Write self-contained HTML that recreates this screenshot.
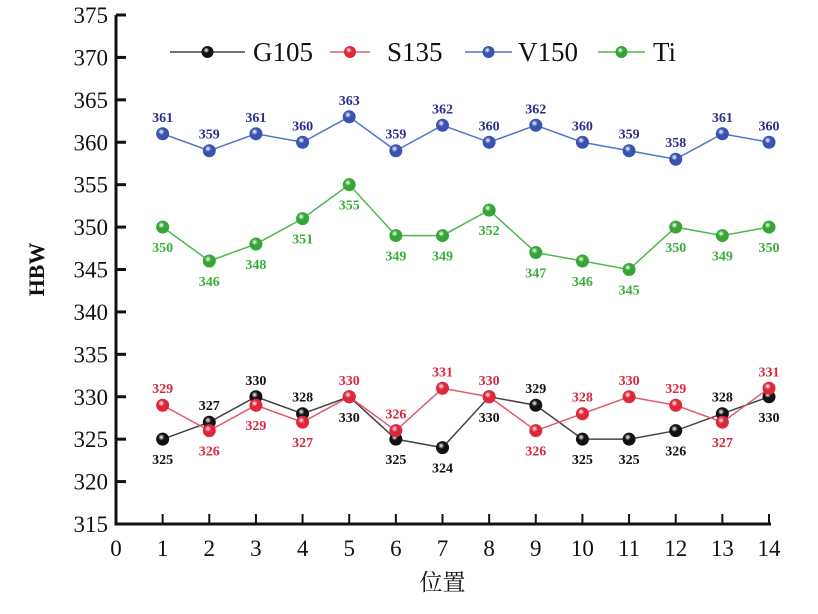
<!DOCTYPE html>
<html><head><meta charset="utf-8"><style>
body{margin:0;background:#fff;}
svg{display:block;font-family:"Liberation Serif","Noto Serif CJK SC",serif;}
</style></head><body>
<svg id="chart" width="818" height="614"></svg>
<script>
const categories=[1,2,3,4,5,6,7,8,9,10,11,12,13,14];
const g105=[325,327,330,328,330,325,324,330,329,325,325,326,328,330];
const s135=[329,326,329,327,330,326,331,330,326,328,330,329,327,331];
const v150=[361,359,361,360,363,359,362,360,362,360,359,358,361,360];
const ti=[350,346,348,351,355,349,349,352,347,346,345,350,349,350];
const yTicks=[315,320,325,330,335,340,345,350,355,360,365,370,375];
const xTicks=[0,1,2,3,4,5,6,7,8,9,10,11,12,13,14];
const g105Above=[false,true,true,true,false,false,false,false,true,false,false,false,true,false];

const NS="http://www.w3.org/2000/svg";
const svg=document.getElementById('chart');
const X0=116,X1=769,Y0=524,Y1=15;
const xs=v=>X0+(v-0)/(14-0)*(X1-X0);
const ys=v=>Y0-(v-315)/(375-315)*(Y0-Y1);
function mk(tag,attrs,parent){const e=document.createElementNS(NS,tag);for(const k in attrs)e.setAttribute(k,attrs[k]);(parent||svg).appendChild(e);return e;}

const axes=mk('g',{});


const ya=mk('line',{x1:X0,y1:Y1,x2:X0,y2:Y0+1.5,stroke:'#111','stroke-width':3},axes);


const xa=mk('line',{x1:X0-1.5,y1:Y0,x2:X1+2,y2:Y0,stroke:'#111','stroke-width':3},axes);


yTicks.forEach(t=>{
  mk('line',{x1:X0,y1:ys(t),x2:X0+10,y2:ys(t),stroke:'#111','stroke-width':3},axes);
  const tx=mk('text',{x:X0-8,y:ys(t)+8,'text-anchor':'end','font-size':23,fill:'#111'},axes);
  tx.textContent=t;
  
  
});
xTicks.forEach(t=>{
  if(t>0)mk('line',{x1:xs(t),y1:Y0,x2:xs(t),y2:Y0-10,stroke:'#111','stroke-width':2},axes);
  const tx=mk('text',{x:xs(t),y:Y0+32,'text-anchor':'middle','font-size':23,fill:'#111'},axes);
  tx.textContent=t;
  
  
});
const yt=mk('text',{x:44,y:ys(345),'text-anchor':'middle','font-size':22,'font-weight':'bold',fill:'#111',transform:'rotate(-90 44 '+ys(345)+')'});
yt.textContent='HBW';


const xt=mk('text',{x:xs(7),y:590,'text-anchor':'middle','font-size':23,fill:'#111'});
xt.textContent='位置';



function grad(id,c){const d=mk('defs',{});const g=mk('radialGradient',{id:id,cx:'0.4',cy:'0.35',r:'0.7'},d);mk('stop',{offset:'0','stop-color':'#fff','stop-opacity':0.9},g);mk('stop',{offset:'0.35','stop-color':c},g);mk('stop',{offset:'1','stop-color':c},g);}
const series=[
 {name:'G105',vals:g105,line:'#444',mark:'#111',lab:'#111'},
 {name:'S135',vals:s135,line:'#e05a6a',mark:'#e0263a',lab:'#d8283e'},
 {name:'V150',vals:v150,line:'#4a78c8',mark:'#3a52b0',lab:'#2b2f8c'},
 {name:'Ti',vals:ti,line:'#4cb84c',mark:'#35a535',lab:'#3aae3a'}
];
series.forEach((s,i)=>grad('gr'+i,s.mark));
series.forEach((s,si)=>{
  const g=mk('g',{});
  
  
  mk('polyline',{points:s.vals.map((v,i)=>xs(categories[i])+','+ys(v)).join(' '),fill:'none',stroke:s.line,'stroke-width':1.5},g);
  s.vals.forEach((v,i)=>{
    const c=mk('circle',{cx:xs(categories[i]),cy:ys(v),r:6.5,fill:'url(#gr'+si+')'},g);
    
    
    let above;
    if(si===0)above=g105Above[i];
    else if(si===1)above=!g105Above[i];
    else if(si===2)above=true;
    else above=false;
    const t=mk('text',{x:xs(categories[i]),y:above?ys(v)-12:ys(v)+25,'text-anchor':'middle','font-size':14,'font-weight':'bold',fill:s.lab},g);
    t.textContent=v;
    
    
  });
});
const lg=mk('g',{});


const legX=[[170,245,253],[330,370,387],[465,512,518],[598,645,653]];
series.forEach((s,i)=>{
  const [a,b,tx]=legX[i];
  const e=mk('g',{},lg);
  
  
  mk('line',{x1:a,y1:52,x2:b,y2:52,stroke:s.line,'stroke-width':1.5},e);
  mk('circle',{cx:(a+b)/2,cy:52,r:6,fill:'url(#gr'+i+')'},e);
  const t=mk('text',{x:tx,y:61,'font-size':27,fill:'#111'},e);
  t.textContent=s.name;
});
</script>
</body></html>
